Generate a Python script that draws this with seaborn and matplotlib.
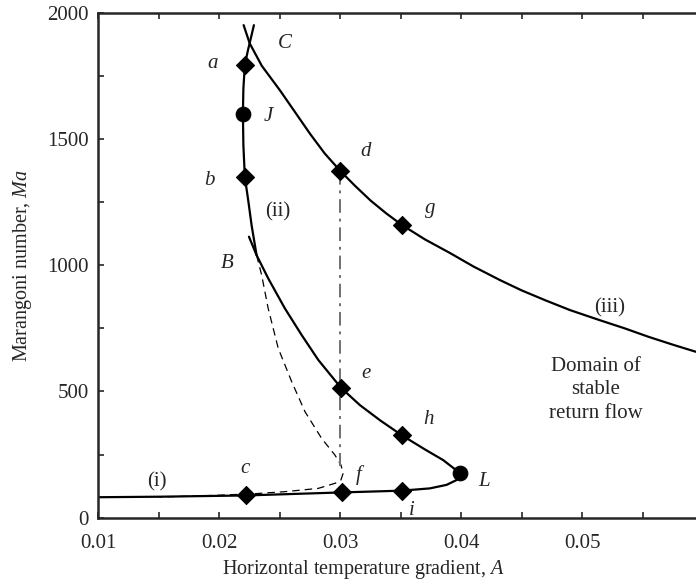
import pandas as pd
import numpy as np
import matplotlib
matplotlib.use('Agg')
import matplotlib.pyplot as plt
import seaborn as sns

# traced curve points (A, Ma)
c_branch_A = [0.0220, 0.0225, 0.0235, 0.0250, 0.0262, 0.0275, 0.0287, 0.0300, 0.0312, 0.0325, 0.0338,
              0.0351, 0.0370, 0.0390, 0.0410, 0.0432, 0.0450, 0.0470, 0.0490, 0.0514, 0.0535, 0.0555,
              0.0575, 0.0594]
c_branch_Ma = [1951, 1879, 1790, 1693, 1610, 1520, 1443, 1373, 1315, 1256, 1205,
               1159, 1102, 1050, 995, 941, 900, 860, 822, 783, 750, 716,
               685, 657]

ii_solid_A = [0.02285, 0.0226, 0.02235, 0.0221, 0.02198, 0.02194, 0.02198, 0.0221, 0.02238, 0.02266, 0.02307]
ii_solid_Ma = [1951, 1900, 1850, 1793, 1700, 1601, 1475, 1349, 1257, 1158, 1040]

ii_dash_A = [0.02307, 0.02349, 0.02403, 0.02486, 0.02597, 0.02707, 0.02845, 0.02955, 0.03004, 0.03023,
             0.03004, 0.02955, 0.02817, 0.02541, 0.02293, 0.0200, 0.0175, 0.0150]
ii_dash_Ma = [1040, 961, 829, 671, 539, 420, 314, 248, 209, 176,
              149, 136, 116, 103, 95, 89, 85, 82]

bl_A = [0.02244, 0.02307, 0.02403, 0.02541, 0.02679, 0.02817, 0.03004, 0.03161, 0.0333, 0.03506,
        0.0370, 0.0385, 0.0399]
bl_Ma = [1113, 1040, 948, 829, 724, 625, 515, 446, 385, 327,
         270, 228, 176]

low_A = [0.0100, 0.0150, 0.0222, 0.0301, 0.03506, 0.0374, 0.03878, 0.0396, 0.04002, 0.0399]
low_Ma = [81, 83, 88, 100, 107, 116, 130, 149, 169, 176]

vline_A = [0.0300, 0.0300]
vline_Ma = [1373, 205]

diamond_names = ['a', 'b', 'c', 'd', 'e', 'f', 'g', 'h', 'i']
diamond_A = [0.0221, 0.0221, 0.0222, 0.0300, 0.03004, 0.0301, 0.0351, 0.03506, 0.03506]
diamond_Ma = [1793, 1349, 88, 1373, 515, 100, 1159, 327, 107]

circle_names = ['J', 'L']
circle_A = [0.02194, 0.0399]
circle_Ma = [1601, 176]

sns.set_style('ticks')
plt.rcParams['font.family'] = ['Liberation Serif', 'DejaVu Serif']
plt.rcParams['mathtext.fontset'] = 'custom'
plt.rcParams['mathtext.it'] = 'Liberation Serif:italic'
plt.rcParams['mathtext.rm'] = 'Liberation Serif'

fig = plt.figure(figsize=(6.96, 5.81), dpi=100)
ax = fig.add_axes([0.1415, 0.109, 0.8585, 0.869])

def curve(xs, ys, **kw):
    d = pd.DataFrame({'A': xs, 'Ma': ys})
    sns.lineplot(data=d, x='A', y='Ma', sort=False, estimator=None, ax=ax, **kw)

curve(c_branch_A, c_branch_Ma, color='black', lw=1.6)
curve(ii_solid_A, ii_solid_Ma, color='black', lw=1.6)
curve(bl_A, bl_Ma, color='black', lw=1.6)
curve(low_A, low_Ma, color='black', lw=1.6)
ax.plot(ii_dash_A, ii_dash_Ma, color='black', lw=0.9, dashes=(6, 4))
ax.plot(vline_A, vline_Ma, color='#707070', lw=1.4, dashes=(7, 3, 1.5, 3))

dd = pd.DataFrame({'A': diamond_A, 'Ma': diamond_Ma})
sns.scatterplot(data=dd, x='A', y='Ma', marker='D', s=85, color='black', edgecolor='black', ax=ax, zorder=5)
cd = pd.DataFrame({'A': circle_A, 'Ma': circle_Ma})
sns.scatterplot(data=cd, x='A', y='Ma', marker='o', s=110, color='black', edgecolor='black', ax=ax, zorder=5)

ax.set_xlim(0.01, 0.0594)
ax.set_ylim(0, 2000)
ax.set_xticks([0.01, 0.02, 0.03, 0.04, 0.05])
ax.set_xticklabels(['0.01', '0.02', '0.03', '0.04', '0.05'])
ax.set_xticks(np.arange(0.015, 0.06, 0.01), minor=True)
ax.set_yticks([0, 500, 1000, 1500, 2000])
ax.set_yticks([250, 750, 1250, 1750], minor=True)
ax.tick_params(which='both', direction='in', top=True, right=False, length=4, width=1.2, labelsize=15)
ax.tick_params(axis='x', which='both', pad=12)
ax.tick_params(axis='y', which='both', pad=7)
for s in ['left', 'bottom', 'top']:
    ax.spines[s].set_linewidth(1.8)
ax.spines['right'].set_visible(False)

ax.set_xlabel('Horizontal temperature gradient, $\\mathit{A}$', fontsize=14.5)
ax.xaxis.set_label_coords(0.444, -0.08)
ax.set_ylabel('Marangoni number, $\\mathit{Ma}$', fontsize=14.5)
ax.yaxis.set_label_coords(-0.108, 0.5)

lab = dict(fontsize=15, ha='center', va='center', style='italic')
ax.text(0.0194, 1800, 'a', **lab)
ax.text(0.0254, 1880, 'C', **lab)
ax.text(0.0240, 1590, 'J', **lab)
ax.text(0.0192, 1335, 'b', **lab)
ax.text(0.0206, 1005, 'B', **lab)
ax.text(0.0321, 1450, 'd', **lab)
ax.text(0.0374, 1225, 'g', **lab)
ax.text(0.0321, 570, 'e', **lab)
ax.text(0.0373, 390, 'h', **lab)
ax.text(0.0221, 195, 'c', **lab)
ax.text(0.0315, 168, 'f', **lab)
ax.text(0.0419, 145, 'L', **lab)
ax.text(0.0359, 30, 'i', **lab)
rom = dict(fontsize=15, ha='center', va='center')
ax.text(0.0148, 140, '(i)', **rom)
ax.text(0.0248, 1210, '(ii)', **rom)
ax.text(0.0523, 830, '(iii)', **rom)
ax.text(0.0511, 506, 'Domain of\nstable\nreturn flow', fontsize=15, ha='center', va='center', linespacing=1.35)

fig.savefig('out.png', dpi=100)
